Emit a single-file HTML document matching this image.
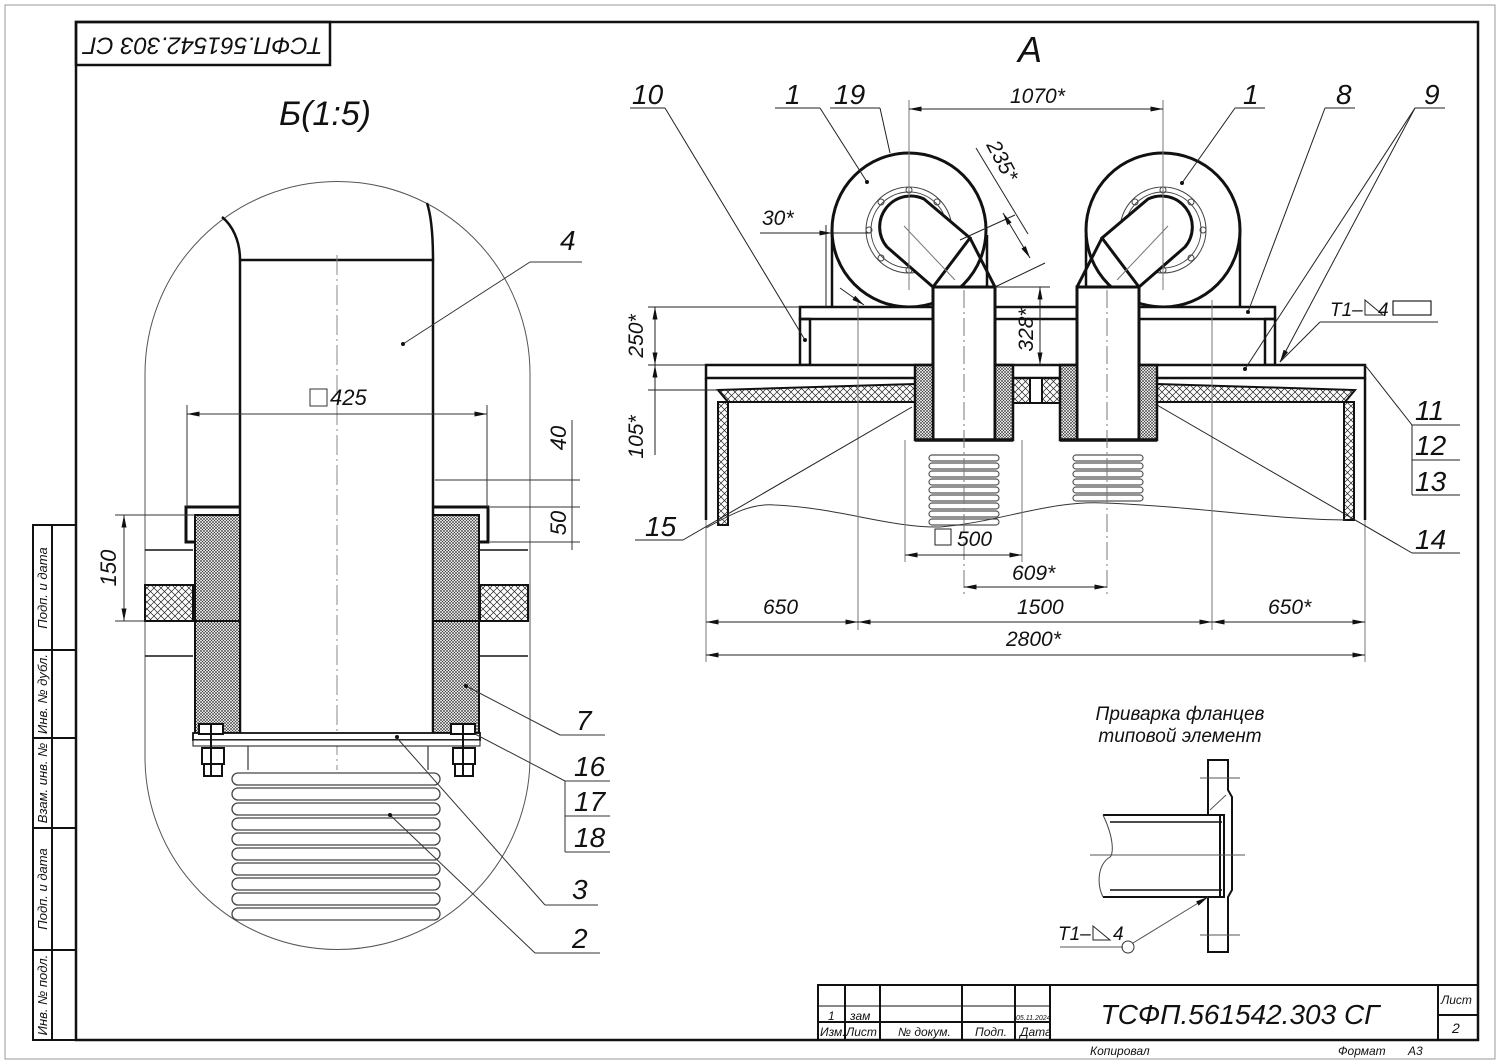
<!DOCTYPE html>
<html><head><meta charset="utf-8"><style>
html,body{margin:0;padding:0;background:#fff}
svg{display:block}
text{font-family:"Liberation Sans",sans-serif;font-style:italic;fill:#111}
</style></head><body>
<svg width="1500" height="1064" viewBox="0 0 1500 1064" xmlns="http://www.w3.org/2000/svg">
<defs>
<pattern id="h1" width="7" height="7" patternUnits="userSpaceOnUse"><path d="M0 0L7 7M7 0L0 7" stroke="#222" stroke-width="0.7"/></pattern>
<pattern id="h2" width="3" height="3" patternUnits="userSpaceOnUse"><rect width="3" height="3" fill="#fff"/><path d="M0 0L3 3M3 0L0 3" stroke="#333" stroke-width="0.6"/></pattern>
<marker id="a" viewBox="0 0 10 4" refX="10" refY="2" markerWidth="14" markerHeight="5" orient="auto-start-reverse" markerUnits="userSpaceOnUse"><path d="M0 0L10 2L0 4z" fill="#111"/></marker>
</defs>
<rect x="5" y="5" width="1490" height="1054" fill="none" stroke="#999" stroke-width="1"/>
<rect x="76" y="22" width="1402" height="1018" fill="none" stroke="#111" stroke-width="2.5"/>
<rect x="76" y="22" width="254" height="43" fill="none" stroke="#111" stroke-width="2.5"/>
<text transform="translate(203,44) rotate(180)" font-size="24" text-anchor="middle" dominant-baseline="middle">ТСФП.561542.303 СГ</text>
<g stroke="#111" stroke-width="2" fill="none">
<rect x="33" y="525" width="43" height="515"/>
<line x1="52" y1="525" x2="52" y2="1040"/>
<line x1="33" y1="650" x2="76" y2="650"/><line x1="33" y1="738" x2="76" y2="738"/>
<line x1="33" y1="828" x2="76" y2="828"/><line x1="33" y1="950" x2="76" y2="950"/>
</g>
<g font-size="13" text-anchor="middle">
<text transform="translate(47,588) rotate(-90)">Подп. и дата</text>
<text transform="translate(47,694) rotate(-90)">Инв. № дубл.</text>
<text transform="translate(47,783) rotate(-90)">Взам. инв. №</text>
<text transform="translate(47,889) rotate(-90)">Подп. и дата</text>
<text transform="translate(47,995) rotate(-90)">Инв. № подл.</text>
</g>
<g stroke="#111" stroke-width="2" fill="none">
<polyline points="818,1040 818,985 1478,985"/>
<line x1="845" y1="985" x2="845" y2="1040"/><line x1="880" y1="985" x2="880" y2="1040"/>
<line x1="962" y1="985" x2="962" y2="1040"/><line x1="1015" y1="985" x2="1015" y2="1040"/>
<line x1="1050" y1="985" x2="1050" y2="1040"/><line x1="1438" y1="985" x2="1438" y2="1040"/>
<line x1="818" y1="1022" x2="1050" y2="1022"/><line x1="1438" y1="1015" x2="1478" y2="1015"/>
<line x1="818" y1="1006" x2="1050" y2="1006" stroke-width="1"/>
</g>
<g font-size="12">
<text x="828" y="1020">1</text><text x="850" y="1020">зам</text>
<text x="1016" y="1020" font-size="7">05.11.2024</text>
<text x="820" y="1036">Изм.</text><text x="846" y="1036">Лист</text><text x="898" y="1036">№ докум.</text>
<text x="975" y="1036">Подп.</text><text x="1020" y="1036">Дата</text>
<text x="1441" y="1004">Лист</text><text x="1452" y="1033" font-size="14">2</text>
<text x="1090" y="1055">Копировал</text><text x="1338" y="1055">Формат</text><text x="1408" y="1055">А3</text>
</g>
<text x="1240" y="1024" font-size="28" text-anchor="middle">ТСФП.561542.303 СГ</text>

<!-- LEFT -->
<text x="325" y="125" font-size="34" text-anchor="middle">Б(1:5)</text>
<path d="M145 757 L145 374 A192.5 192.5 0 0 1 530 374 L530 757 A192.5 192.5 0 0 1 145 757Z" fill="none" stroke="#555" stroke-width="1"/>
<g stroke="#111" stroke-width="2.5" fill="none">
<path d="M240 733 L240 260 L433 260 L433 733"/>
<path d="M240 260 C240 240 232 225 222 217"/>
<path d="M433 260 C433 235 431 215 427 203"/>
</g>
<line x1="337" y1="255" x2="337" y2="770" stroke="#888" stroke-width="1" stroke-dasharray="20,4,2,4"/>
<g stroke="#111" stroke-width="1.5">
<line x1="145" y1="550" x2="193" y2="550"/><line x1="480" y1="550" x2="528" y2="550"/>
<line x1="145" y1="656" x2="193" y2="656"/><line x1="480" y1="656" x2="528" y2="656"/>
</g>
<rect x="145" y="585" width="48" height="36" fill="url(#h1)" stroke="#111" stroke-width="2"/>
<rect x="480" y="585" width="48" height="36" fill="url(#h1)" stroke="#111" stroke-width="2"/>
<rect x="195" y="515" width="45" height="218" fill="url(#h2)" stroke="#111" stroke-width="2"/>
<rect x="433" y="515" width="46" height="218" fill="url(#h2)" stroke="#111" stroke-width="2"/>
<line x1="195" y1="621" x2="240" y2="621" stroke="#111" stroke-width="2"/>
<line x1="433" y1="621" x2="479" y2="621" stroke="#111" stroke-width="2"/>
<g stroke="#111" stroke-width="3" fill="none">
<polyline points="240,507 186,507 186,542 195,542"/>
<polyline points="433,507 488,507 488,542 479,542"/>
</g>
<rect x="193" y="733" width="287" height="7" fill="#fff" stroke="#111" stroke-width="1.8"/>
<rect x="193" y="740" width="287" height="6" fill="#fff" stroke="#111" stroke-width="1"/>
<g stroke="#111" stroke-width="2" fill="#fff">
<rect x="199" y="724" width="24" height="10"/><rect x="451" y="724" width="24" height="10"/>
<rect x="202" y="748" width="22" height="16"/><rect x="453" y="748" width="22" height="16"/>
<rect x="204" y="764" width="18" height="12"/><rect x="455" y="764" width="18" height="12"/>
<line x1="211" y1="724" x2="211" y2="776"/><line x1="463" y1="724" x2="463" y2="776"/>
</g>
<g stroke="#444" stroke-width="1.3" fill="none">
<line x1="248" y1="746" x2="248" y2="770"/><line x1="428" y1="746" x2="428" y2="770"/>
<rect x="232" y="773" width="208" height="12" rx="6"/><rect x="232" y="788" width="208" height="12" rx="6"/>
<rect x="232" y="803" width="208" height="12" rx="6"/><rect x="232" y="818" width="208" height="12" rx="6"/>
<rect x="232" y="833" width="208" height="12" rx="6"/><rect x="232" y="848" width="208" height="12" rx="6"/>
<rect x="232" y="863" width="208" height="12" rx="6"/><rect x="232" y="878" width="208" height="12" rx="6"/>
<rect x="232" y="893" width="208" height="12" rx="6"/><rect x="232" y="908" width="208" height="12" rx="6"/>
</g>
<g stroke="#333" stroke-width="1" fill="none">
<line x1="187" y1="405" x2="187" y2="507"/><line x1="487" y1="405" x2="487" y2="507"/>
<line x1="187" y1="414" x2="487" y2="414" marker-start="url(#a)" marker-end="url(#a)"/>
<rect x="310" y="389" width="17" height="17"/>
<line x1="115" y1="515" x2="195" y2="515"/><line x1="115" y1="621" x2="145" y2="621"/>
<line x1="124" y1="515" x2="124" y2="621" marker-start="url(#a)" marker-end="url(#a)"/>
<line x1="435" y1="480" x2="580" y2="480"/><line x1="490" y1="507" x2="580" y2="507"/><line x1="490" y1="542" x2="580" y2="542"/>
<line x1="572" y1="420" x2="572" y2="550"/>
<line x1="403" y1="344" x2="530" y2="262"/><line x1="530" y1="262" x2="582" y2="262"/>
<line x1="466" y1="686" x2="560" y2="735"/><line x1="560" y1="735" x2="605" y2="735"/>
<line x1="475" y1="734" x2="565" y2="781"/><line x1="565" y1="781" x2="610" y2="781"/>
<line x1="565" y1="781" x2="565" y2="852"/><line x1="565" y1="816" x2="610" y2="816"/><line x1="565" y1="852" x2="610" y2="852"/>
<line x1="397" y1="738" x2="545" y2="905"/><line x1="545" y1="905" x2="598" y2="905"/>
<line x1="390" y1="815" x2="535" y2="953"/><line x1="535" y1="953" x2="600" y2="953"/>
</g>
<g fill="#111"><circle cx="403" cy="344" r="2"/><circle cx="466" cy="686" r="2"/><circle cx="397" cy="737" r="2"/><circle cx="390" cy="815" r="2"/></g>
<g font-size="28">
<text x="330" y="405" font-size="22">425</text>
<text x="560" y="250">4</text>
<text x="576" y="730">7</text><text x="574" y="776">16</text><text x="574" y="811">17</text><text x="574" y="847">18</text>
<text x="572" y="899">3</text><text x="572" y="948">2</text>
</g>
<text transform="translate(116,568) rotate(-90)" font-size="22" text-anchor="middle">150</text>
<text transform="translate(566,438) rotate(-90)" font-size="22" text-anchor="middle">40</text>
<text transform="translate(566,523) rotate(-90)" font-size="22" text-anchor="middle">50</text>

<!-- RIGHT -->
<text x="1030" y="62" font-size="36" text-anchor="middle">А</text>
<g stroke="#111" stroke-width="3" fill="#fff">
<circle cx="909" cy="230" r="77"/><circle cx="1163" cy="230" r="77"/>
</g>
<g stroke="#111" stroke-width="2.5" fill="none">
<line x1="832" y1="230" x2="832" y2="307"/><line x1="987" y1="235" x2="987" y2="307"/>
<line x1="1086" y1="235" x2="1086" y2="307"/><line x1="1240" y1="230" x2="1240" y2="307"/>
</g>
<g stroke="#444" stroke-width="1" fill="none">
<circle cx="909" cy="230" r="38"/><circle cx="909" cy="230" r="43"/>
<circle cx="1163" cy="230" r="38"/><circle cx="1163" cy="230" r="43"/>
<circle cx="909" cy="190" r="3"/><circle cx="869" cy="230" r="3"/><circle cx="949" cy="230" r="3"/><circle cx="909" cy="270" r="3"/>
<circle cx="881" cy="202" r="3"/><circle cx="937" cy="202" r="3"/><circle cx="881" cy="258" r="3"/><circle cx="937" cy="258" r="3"/>
<circle cx="1163" cy="190" r="3"/><circle cx="1123" cy="230" r="3"/><circle cx="1203" cy="230" r="3"/><circle cx="1163" cy="270" r="3"/>
<circle cx="1135" cy="202" r="3"/><circle cx="1191" cy="202" r="3"/><circle cx="1135" cy="258" r="3"/><circle cx="1191" cy="258" r="3"/>
</g>
<g stroke="#111" stroke-width="3" fill="#fff">
<path d="M933 287 L887 247 A31 31 0 0 1 924 199 L970 238 Z"/>
<path d="M1139 287 L1185 247 A31 31 0 0 0 1148 199 L1102 238 Z"/>
<path d="M970 238 L995 287"/><path d="M1102 238 L1077 287"/>
</g>
<rect x="800" y="307" width="475" height="12" fill="#fff" stroke="#111" stroke-width="2.5"/>
<g stroke="#111" stroke-width="2.5" fill="none">
<rect x="800" y="319" width="10" height="46"/><rect x="1265" y="319" width="10" height="46"/>
</g>
<rect x="706" y="365" width="659" height="13" fill="#fff" stroke="#111" stroke-width="2.5"/>
<path d="M718 390 L915 384 L915 402 L728 402 Z" fill="url(#h1)" stroke="#111" stroke-width="2"/>
<path d="M1157 384 L1355 390 L1345 402 L1157 402 Z" fill="url(#h1)" stroke="#111" stroke-width="2"/>
<line x1="706" y1="378" x2="706" y2="520" stroke="#111" stroke-width="2.5"/>
<line x1="1365" y1="378" x2="1365" y2="520" stroke="#111" stroke-width="2.5"/>
<rect x="718" y="402" width="10" height="123" fill="url(#h1)" stroke="#111" stroke-width="2"/>
<rect x="1344" y="402" width="10" height="118" fill="url(#h1)" stroke="#111" stroke-width="2"/>
<rect x="1013" y="378" width="47" height="25" fill="url(#h1)" stroke="#111" stroke-width="2"/>
<rect x="1030" y="378" width="12" height="25" fill="#fff" stroke="#111" stroke-width="2"/>
<g stroke="#111" stroke-width="3" fill="#fff">
<rect x="933" y="287" width="62" height="153"/><rect x="1077" y="287" width="62" height="153"/>
</g>
<g stroke="#111" stroke-width="2.5">
<rect x="915" y="365" width="18" height="75" fill="url(#h2)"/><rect x="995" y="365" width="18" height="75" fill="url(#h2)"/>
<rect x="1060" y="365" width="17" height="75" fill="url(#h2)"/><rect x="1139" y="365" width="18" height="75" fill="url(#h2)"/>
<line x1="915" y1="440" x2="1013" y2="440" stroke-width="3.5"/><line x1="1060" y1="440" x2="1157" y2="440" stroke-width="3.5"/>
</g>
<g stroke="#555" stroke-width="1.2" fill="none">
<rect x="929" y="455" width="70" height="6" rx="3"/><rect x="929" y="463" width="70" height="6" rx="3"/>
<rect x="929" y="471" width="70" height="6" rx="3"/><rect x="929" y="479" width="70" height="6" rx="3"/>
<rect x="929" y="487" width="70" height="6" rx="3"/><rect x="929" y="495" width="70" height="6" rx="3"/>
<rect x="929" y="503" width="70" height="6" rx="3"/><rect x="929" y="511" width="70" height="6" rx="3"/>
<rect x="929" y="519" width="70" height="6" rx="3"/>
<rect x="1073" y="455" width="70" height="6" rx="3"/><rect x="1073" y="463" width="70" height="6" rx="3"/>
<rect x="1073" y="471" width="70" height="6" rx="3"/><rect x="1073" y="479" width="70" height="6" rx="3"/>
<rect x="1073" y="487" width="70" height="6" rx="3"/><rect x="1073" y="495" width="70" height="6" rx="3"/>
</g>
<path d="M706 528 C730 515 750 503 775 505 C840 508 890 528 940 527 C1000 522 1050 500 1105 503 C1200 507 1280 520 1346 520" fill="none" stroke="#333" stroke-width="1"/>
<g stroke="#777" stroke-width="1" fill="none">
<line x1="909" y1="100" x2="909" y2="290"/><line x1="1163" y1="100" x2="1163" y2="290"/>
<line x1="964" y1="290" x2="964" y2="595" stroke-dasharray="18,4,2,4"/>
<line x1="1107" y1="290" x2="1107" y2="595" stroke-dasharray="18,4,2,4"/>
<line x1="858" y1="300" x2="858" y2="630"/><line x1="1212" y1="300" x2="1212" y2="630"/>
<line x1="706" y1="520" x2="706" y2="662"/><line x1="1365" y1="520" x2="1365" y2="662"/>
<line x1="905" y1="440" x2="905" y2="562"/><line x1="1022" y1="440" x2="1022" y2="562"/>
<line x1="904" y1="226" x2="955" y2="280"/><line x1="1168" y1="226" x2="1117" y2="280"/>
</g>
<g stroke="#222" stroke-width="1" fill="none">
<line x1="909" y1="109" x2="1163" y2="109" marker-start="url(#a)" marker-end="url(#a)"/>
<line x1="706" y1="622" x2="858" y2="622" marker-start="url(#a)" marker-end="url(#a)"/>
<line x1="858" y1="622" x2="1212" y2="622" marker-start="url(#a)" marker-end="url(#a)"/>
<line x1="1212" y1="622" x2="1365" y2="622" marker-start="url(#a)" marker-end="url(#a)"/>
<line x1="706" y1="655" x2="1365" y2="655" marker-start="url(#a)" marker-end="url(#a)"/>
<line x1="964" y1="587" x2="1107" y2="587" marker-start="url(#a)" marker-end="url(#a)"/>
<line x1="905" y1="555" x2="1022" y2="555" marker-start="url(#a)" marker-end="url(#a)"/>
<rect x="935" y="529" width="16" height="16"/>
<line x1="648" y1="307" x2="800" y2="307"/><line x1="648" y1="365" x2="706" y2="365"/><line x1="648" y1="390" x2="718" y2="390"/>
<line x1="655" y1="307" x2="655" y2="365" marker-start="url(#a)" marker-end="url(#a)"/>
<line x1="655" y1="365" x2="655" y2="390" marker-start="url(#a)"/>
<line x1="655" y1="390" x2="655" y2="455"/>
<line x1="995" y1="287" x2="1050" y2="287"/><line x1="1013" y1="365" x2="1050" y2="365"/>
<line x1="1040" y1="287" x2="1040" y2="365" marker-start="url(#a)" marker-end="url(#a)"/>
<line x1="760" y1="233" x2="832" y2="233" marker-end="url(#a)"/><line x1="870" y1="233" x2="832" y2="233"/>
<line x1="826" y1="225" x2="826" y2="307"/>
<line x1="976" y1="148" x2="1028" y2="234"/><line x1="1015" y1="215" x2="960" y2="240"/>
<line x1="1003" y1="213" x2="1030" y2="258" marker-start="url(#a)" marker-end="url(#a)"/>
<line x1="995" y1="287" x2="1045" y2="263"/>
<line x1="840" y1="288" x2="864" y2="305" marker-end="url(#a)"/>
<line x1="630" y1="108" x2="665" y2="108"/><line x1="665" y1="108" x2="805" y2="340"/>
<line x1="775" y1="108" x2="820" y2="108"/><line x1="820" y1="108" x2="867" y2="182"/>
<line x1="830" y1="108" x2="880" y2="108"/><line x1="880" y1="108" x2="890" y2="153"/>
<line x1="1235" y1="108" x2="1265" y2="108"/><line x1="1235" y1="108" x2="1182" y2="183"/>
<line x1="1325" y1="108" x2="1355" y2="108"/><line x1="1325" y1="108" x2="1248" y2="312"/>
<line x1="1415" y1="108" x2="1445" y2="108"/><line x1="1415" y1="108" x2="1245" y2="369"/>
<line x1="1415" y1="108" x2="1280" y2="362" marker-end="url(#a)"/>
<line x1="1280" y1="362" x2="1320" y2="322"/><line x1="1320" y1="322" x2="1438" y2="322"/>
<line x1="1365" y1="365" x2="1412" y2="425"/><line x1="1412" y1="425" x2="1460" y2="425"/>
<line x1="1412" y1="425" x2="1412" y2="495"/><line x1="1412" y1="460" x2="1460" y2="460"/><line x1="1412" y1="495" x2="1460" y2="495"/>
<line x1="1157" y1="405" x2="1412" y2="553"/><line x1="1412" y1="553" x2="1460" y2="553"/>
<line x1="912" y1="407" x2="683" y2="540"/><line x1="635" y1="540" x2="683" y2="540"/>
</g>
<rect x="1393" y="301" width="38" height="14" fill="none" stroke="#222" stroke-width="1.2"/>
<path d="M1365 300 L1383 315 L1365 315 Z" fill="none" stroke="#222" stroke-width="1"/>
<g fill="#111"><circle cx="805" cy="340" r="2"/><circle cx="867" cy="182" r="2"/><circle cx="1182" cy="183" r="2"/><circle cx="1248" cy="312" r="2"/><circle cx="1245" cy="369" r="2"/></g>
<g font-size="28">
<text x="632" y="104">10</text><text x="785" y="104">1</text><text x="834" y="104">19</text>
<text x="1243" y="104">1</text><text x="1336" y="104">8</text><text x="1424" y="104">9</text>
<text x="1415" y="420">11</text><text x="1415" y="455">12</text><text x="1415" y="491">13</text><text x="1415" y="549">14</text>
<text x="645" y="536">15</text>
</g>
<g font-size="21">
<text x="1010" y="103">1070*</text><text x="762" y="225">30*</text>
<text x="957" y="546">500</text><text x="1012" y="580">609*</text>
<text x="763" y="614">650</text><text x="1017" y="614">1500</text><text x="1268" y="614">650*</text>
<text x="1006" y="646">2800*</text>
<text x="1330" y="316" font-size="19">Т1–</text><text x="1378" y="316" font-size="19">4</text>
</g>
<text transform="translate(986,145) rotate(62)" font-size="21">235*</text>
<text transform="translate(1033,330) rotate(-90)" font-size="21" text-anchor="middle">328*</text>
<text transform="translate(643,336) rotate(-90)" font-size="21" text-anchor="middle">250*</text>
<text transform="translate(643,437) rotate(-90)" font-size="21" text-anchor="middle">105*</text>

<text x="1180" y="720" font-size="19" text-anchor="middle">Приварка фланцев</text>
<text x="1180" y="742" font-size="19" text-anchor="middle">типовой элемент</text>
<g stroke="#111" stroke-width="2" fill="#fff">
<path d="M1208 760 L1228 760 L1228 790 L1232 797 L1232 890 L1228 897 L1228 952 L1208 952 L1208 897 L1220 897 L1220 815 L1208 815 Z"/>
</g>
<g stroke="#111" stroke-width="2" fill="none">
<line x1="1103" y1="815" x2="1225" y2="815"/><line x1="1103" y1="897" x2="1225" y2="897"/>
<line x1="1110" y1="822" x2="1222" y2="822" stroke-width="1.5"/><line x1="1110" y1="890" x2="1222" y2="890" stroke-width="1.5"/>
<line x1="1224" y1="815" x2="1224" y2="897"/>
</g>
<path d="M1103 815 C1115 840 1113 855 1110 857 C1097 865 1097 885 1103 897" fill="none" stroke="#444" stroke-width="1"/>
<g stroke="#555" stroke-width="1">
<line x1="1090" y1="855" x2="1245" y2="855"/><line x1="1200" y1="778" x2="1240" y2="778"/><line x1="1200" y1="935" x2="1240" y2="935"/>
<line x1="1210" y1="810" x2="1226" y2="795"/>
<line x1="1060" y1="947" x2="1123" y2="947"/><line x1="1133" y1="943" x2="1208" y2="897" marker-end="url(#a)"/>
</g>
<circle cx="1128" cy="947" r="6" fill="none" stroke="#333" stroke-width="1"/>
<path d="M1093 940 L1110 940 L1093 926 Z" fill="none" stroke="#222" stroke-width="1"/>
<text x="1058" y="940" font-size="19">Т1–</text><text x="1113" y="940" font-size="19">4</text>
</svg>
</body></html>
